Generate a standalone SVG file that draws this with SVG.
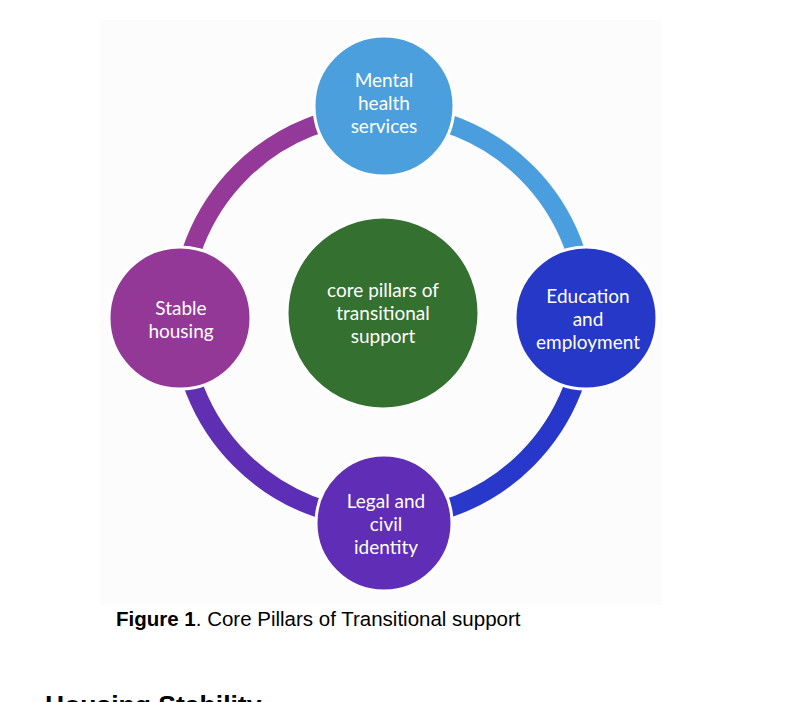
<svg xmlns="http://www.w3.org/2000/svg" width="804" height="702" viewBox="0 0 804 702">
<style>
.arc{fill:none;stroke-width:19}
.node{stroke:#fff;stroke-width:3}
.t{font-family:Lato,"Open Sans",sans-serif;font-size:19px;fill:#fff;text-anchor:middle}
.cap{font-family:"Liberation Sans",Arial,sans-serif;font-size:20.5px;fill:#000}
</style>
<defs>
<linearGradient id="gTR" gradientUnits="userSpaceOnUse" x1="384" y1="113" x2="586" y2="318"><stop offset="0" stop-color="#4b9ddc"/><stop offset="1" stop-color="#4a9fe0"/></linearGradient>
<linearGradient id="gBR" gradientUnits="userSpaceOnUse" x1="586" y1="318" x2="384" y2="520"><stop offset="0" stop-color="#2435c8"/><stop offset="1" stop-color="#2a3acb"/></linearGradient>
<linearGradient id="gBL" gradientUnits="userSpaceOnUse" x1="180" y1="318" x2="384" y2="520"><stop offset="0" stop-color="#6230b0"/><stop offset="1" stop-color="#5a2db8"/></linearGradient>
<linearGradient id="gTL" gradientUnits="userSpaceOnUse" x1="180" y1="318" x2="384" y2="113"><stop offset="0" stop-color="#963898"/><stop offset="1" stop-color="#933a9a"/></linearGradient>
</defs>
<rect x="100" y="20" width="562" height="585" fill="#fcfcfd"/>
<g id="connectors">
<path class="arc" stroke="url(#gTR)" d="M384 113 A203 203 0 0 1 586 316"/>
<path class="arc" stroke="url(#gBR)" d="M586 316 A203 203 0 0 1 384 519"/>
<path class="arc" stroke="url(#gBL)" d="M384 519 A203 203 0 0 1 181 316"/>
<path class="arc" stroke="url(#gTL)" d="M181 316 A203 203 0 0 1 384 113"/>
</g>
<g id="center"><circle class="node" cx="383" cy="313" r="96" fill="#34702f"/>
<text class="t" x="383" y="297">core pillars of</text><text class="t" x="383" y="320">transitional</text><text class="t" x="383" y="343">support</text></g>
<g id="mental"><circle class="node" cx="384" cy="106" r="70" fill="#4b9fdc"/>
<text class="t" x="384" y="87">Mental</text><text class="t" x="384" y="110">health</text><text class="t" x="384" y="133">services</text></g>
<g id="education"><circle class="node" cx="586" cy="318" r="71" fill="#2538c8"/>
<text class="t" x="588" y="303">Education</text><text class="t" x="588" y="326">and</text><text class="t" x="588" y="349">employment</text></g>
<g id="legal"><circle class="node" cx="384" cy="523" r="68" fill="#5f2db6"/>
<text class="t" x="386" y="508">Legal and</text><text class="t" x="386" y="531">civil</text><text class="t" x="386" y="554">identity</text></g>
<g id="housing"><circle class="node" cx="180" cy="318" r="71" fill="#943898"/>
<text class="t" x="181" y="315">Stable</text><text class="t" x="181" y="338">housing</text></g>
<text class="cap" x="116" y="626"><tspan font-weight="bold">Figure 1</tspan>. Core Pillars of Transitional support</text>
<text x="45" y="714" font-family="Liberation Sans,Arial,sans-serif" font-size="26.5" font-weight="bold">Housing Stability</text>
</svg>
